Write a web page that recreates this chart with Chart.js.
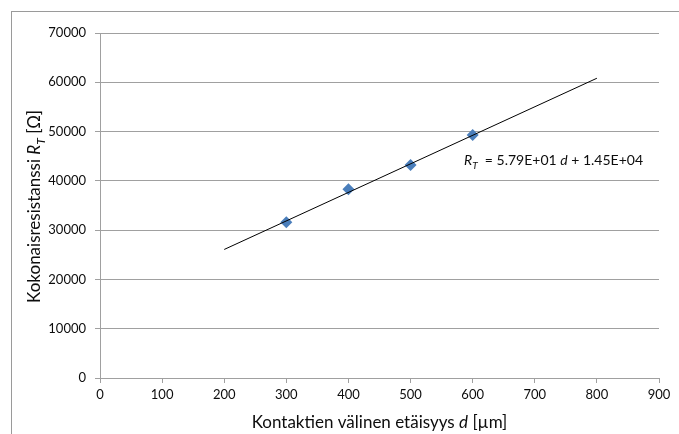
<!DOCTYPE html>
<html><head><meta charset="utf-8">
<script src="https://cdn.jsdelivr.net/npm/chart.js@4/dist/chart.umd.min.js"></script>
<style>html,body{margin:0;padding:0;background:#fff;overflow:hidden}#wrap{width:679px;height:434px;position:relative}</style>
</head><body><div id="wrap"><canvas id="c" width="679" height="434"></canvas></div>
<script>
// ---- data ----
const distances = [300, 400, 500, 600];
const resistances = [31600, 38300, 43200, 49300];
const trendDistances = [200, 800];
const trendResistances = [26080, 60820];
const xTicks = [0, 100, 200, 300, 400, 500, 600, 700, 800, 900];
const yTicks = [0, 10000, 20000, 30000, 40000, 50000, 60000, 70000];
const equationAnchor = [586, 43200];
const xTitleParts = [{t: 'Kontaktien välinen etäisyys '}, {t: 'd', i: true}, {t: ' [µm]'}];
const yTitleParts = [{t: 'Kokonaisresistanssi '}, {t: 'R', i: true}, {t: 'T', i: true, sub: true}, {t: ' [Ω]'}];
const equationParts = [{t: 'R', i: true}, {t: 'T', i: true, sub: true}, {t: '  = 5.79E+01 '}, {t: 'd', i: true}, {t: ' + 1.45E+04'}];

const FONT = 'Lato, "Open Sans", sans-serif';
const TEXT = '#0d0d0d';
const GRID = '#a0a0a0';

function drawRich(ctx, parts, size, x, y, align) {
  const m = parts.map(p => {
    const fs = p.sub ? size * 0.72 : size;
    const f = (p.i ? 'italic ' : '') + fs + 'px ' + FONT;
    ctx.font = f;
    return {p, f, w: ctx.measureText(p.t).width};
  });
  const total = m.reduce((a, b) => a + b.w, 0);
  let cx = align === 'center' ? x - total / 2 : x;
  ctx.textBaseline = 'alphabetic';
  ctx.textAlign = 'left';
  m.forEach(o => {
    ctx.font = o.f;
    ctx.fillText(o.p.t, cx, y + (o.p.sub ? size * 0.28 : 0));
    cx += o.w;
  });
}

const richText = {
  id: 'richText',
  beforeDraw(chart) {
    const ctx = chart.ctx;
    ctx.save();
    ctx.strokeStyle = '#9a9a9a';
    ctx.lineWidth = 1;
    ctx.strokeRect(11.5, 11.5, 1000, 1000);
    ctx.restore();
  },
  afterDraw(chart) {
    const ctx = chart.ctx, a = chart.chartArea;
    const xs = chart.scales.x, ys = chart.scales.y;
    ctx.save();
    ctx.fillStyle = TEXT;
    drawRich(ctx, xTitleParts, 17, (a.left + a.right) / 2, 428, 'center');
    ctx.save();
    ctx.translate(40, (a.top + a.bottom) / 2 + 1);
    ctx.rotate(-Math.PI / 2);
    drawRich(ctx, yTitleParts, 17, 0, 0, 'center');
    ctx.restore();
    drawRich(ctx, equationParts, 14, xs.getPixelForValue(equationAnchor[0]), ys.getPixelForValue(equationAnchor[1]), 'left');
    ctx.restore();
  }
};

new Chart(document.getElementById('c'), {
  type: 'scatter',
  data: {
    datasets: [
      {
        type: 'line',
        data: trendDistances.map((x, k) => ({x, y: trendResistances[k]})),
        borderColor: '#000', borderWidth: 1, pointRadius: 0, fill: false, order: 0
      },
      {
        data: distances.map((x, k) => ({x, y: resistances[k]})),
        pointStyle: 'rectRot', pointRadius: 6, pointHoverRadius: 6,
        backgroundColor: '#4a7ebb', borderColor: '#4a7ebb', borderWidth: 0, order: 1
      }
    ]
  },
  options: {
    responsive: false, animation: false, devicePixelRatio: 1,
    layout: {padding: {left: 0, top: 33, right: 20, bottom: 0}},
    plugins: {legend: {display: false}, tooltip: {enabled: false}},
    scales: {
      x: {
        type: 'linear', min: 0, max: 900,
        afterBuildTicks: s => { s.ticks = xTicks.map(v => ({value: v})); },
        afterFit: s => { s.height = 56; },
        grid: {drawOnChartArea: false, drawTicks: true, tickLength: 5, color: GRID},
        border: {display: true, color: GRID},
        ticks: {color: TEXT, font: {family: FONT, size: 13}, padding: 4, maxRotation: 0, callback: v => String(v)}
      },
      y: {
        type: 'linear', min: 0, max: 70000,
        afterBuildTicks: s => { s.ticks = yTicks.map(v => ({value: v})); },
        afterFit: s => { s.width = 100; },
        grid: {drawTicks: true, tickLength: 5, color: GRID},
        border: {display: true, color: GRID},
        ticks: {color: TEXT, font: {family: FONT, size: 13}, padding: 9, callback: v => String(v)}
      }
    }
  },
  plugins: [richText]
});
</script></body></html>
